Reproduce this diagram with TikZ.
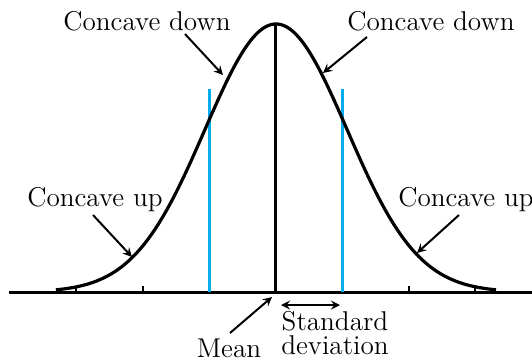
\documentclass[tikz,border=0pt]{standalone}
\usetikzlibrary{calc}
\definecolor{sdblue}{RGB}{0,174,239}
\begin{document}
\begin{tikzpicture}[>=stealth, x=0.5pt, y=-0.5pt,
    lbl/.style={inner sep=0pt, anchor=base, font=\fontsize{13.6}{12}\selectfont},
    pointer/.style={->, line width=1pt}]
    % Define convenient lengths for the mean, the spread and the axis
    \def\cx{276}
    \def\sd{66.5}
    \def\axisy{292}

    % Fix the frame
    \useasboundingbox (0,0) rectangle (532,360);

    % Draw the axis and its ticks
    \draw[line width=1.5pt] (9,\axisy) -- (532,\axisy);
    \draw[line width=1pt] (\cx-3*\sd,\axisy) -- (\cx-3*\sd,\axisy-6);
    \draw[line width=1pt] (\cx-2*\sd,\axisy) -- (\cx-2*\sd,\axisy-6);
    \draw[line width=1pt] (\cx+2*\sd,\axisy) -- (\cx+2*\sd,\axisy-6);
    \draw[line width=1pt] (\cx+3*\sd,\axisy) -- (\cx+3*\sd,\axisy-6);

    % One standard deviation either side of the mean
    \draw[sdblue, line width=1.5pt] (\cx-\sd,\axisy) -- (\cx-\sd,89);
    \draw[sdblue, line width=1.5pt] (\cx+\sd,\axisy) -- (\cx+\sd,89);

    % Mean line and the bell curve
    \draw[line width=1.5pt] (\cx,\axisy) -- (\cx,24);
    \draw[line width=1.6pt] plot[domain=-3.1:3.1, samples=120, smooth]
        ({\cx+71*\x},{\axisy-268*exp(-\x*\x/2)});

    % Labels
    \node[lbl] (downL) at (147,30) {Concave down};
    \node[lbl] (downR) at (431,30) {Concave down};
    \node[lbl] (upL) at (95,206) {Concave up};
    \node[lbl] (upR) at (466,206) {Concave up};
    \node[lbl] (mean) at (229,357) {Mean};
    \node[lbl, anchor=north, align=center] (sdev) at (335,311) {Standard\\deviation};

    % Points on the curve and axis that the labels refer to
    \coordinate (downLtip) at (223,75);
    \coordinate (downRtip) at (323,73);
    \coordinate (upLtip) at (132,257);
    \coordinate (upRtip) at (417,253);
    \coordinate (meantip) at (272,297);
    \coordinate (sdL) at (281,305);
    \coordinate (sdR) at (340,305);

    % Pointers
    \draw[pointer] ($(downL.base)+(38,4)$) -- (downLtip);
    \draw[pointer] ($(downR.base)+(-64,7)$) -- (downRtip);
    \draw[pointer] ($(upL.base)+(-2,9)$) -- (upLtip);
    \draw[pointer] ($(upR.base)+(-7,9)$) -- (upRtip);
    \draw[pointer] ($(mean.base)+(1,-24)$) -- (meantip);
    \draw[<->, line width=1pt] (sdL) -- (sdR);

\end{tikzpicture}
\end{document}
